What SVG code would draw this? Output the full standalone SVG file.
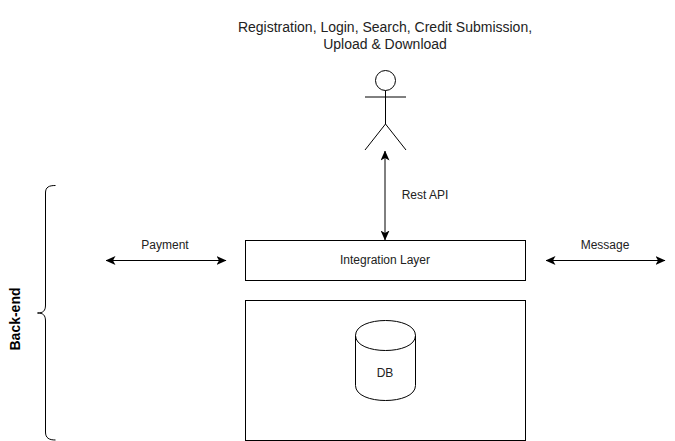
<svg xmlns="http://www.w3.org/2000/svg" width="675" height="441" viewBox="0 0 675 441">
<style>
text{font-family:"Liberation Sans",Arial,sans-serif;font-size:12px;fill:#222;text-anchor:middle}
.s{fill:none;stroke:#000;stroke-width:1}
.b{fill:#fff;stroke:#000;stroke-width:1}
.t{font-size:14px}
.h{font-weight:bold;fill:#000;font-size:14px}
</style>
<defs>
<marker id="a" viewBox="0 0 10 9" markerWidth="10" markerHeight="9" refX="9.500" refY="4.500" orient="auto-start-reverse" markerUnits="userSpaceOnUse"><path d="M0 0L10 4.500L0 9L2.500 4.500Z" fill="#000"/></marker>
</defs>
<rect width="675" height="441" fill="#fff"/>
<g id="connectors">
<path class="s" d="M385 151V240" marker-start="url(#a)" marker-end="url(#a)"/>
<path class="s" d="M106 260.500H226" marker-start="url(#a)" marker-end="url(#a)"/>
<path class="s" d="M546 260.500H665" marker-start="url(#a)" marker-end="url(#a)"/>
</g>
<g id="label-top"><text class="t" x="385" y="32">Registration, Login, Search, Credit Submission,</text><text class="t" x="385" y="49">Upload &amp; Download</text></g>
<g id="actor"><circle class="s" cx="385.500" cy="80.500" r="10"/><path class="s" d="M385.500 90.500V124M365 97H406M385.500 124L365 150M385.500 124L406 150"/></g>
<g id="label-rest"><text x="425" y="199">Rest API</text></g>
<g id="label-payment"><text x="165" y="249">Payment</text></g>
<g id="label-message"><text x="605" y="249">Message</text></g>
<g id="integration"><rect class="b" x="245.500" y="240.500" width="280" height="40"/><text x="385" y="264">Integration Layer</text></g>
<g id="backend-box"><rect class="b" x="245.500" y="300.500" width="280" height="140"/></g>
<g id="db"><path class="b" d="M355.500 335.500C355.500 315.500 415.500 315.500 415.500 335.500V385.500C415.500 405.500 355.500 405.500 355.500 385.500Z"/><path class="s" d="M355.500 335.500C355.500 355.500 415.500 355.500 415.500 335.500"/><text x="385" y="377">DB</text></g>
<g id="brace"><path class="s" d="M55.500 185.500C49 185.500 45.500 187 45.500 193V305C45.500 311 43 313 37.500 313C43 313 45.500 315 45.500 321V432C45.500 438 49 440 55.500 440"/></g>
<g id="label-backend"><text class="h" transform="translate(20 319) rotate(-90)">Back-end</text></g>
</svg>
